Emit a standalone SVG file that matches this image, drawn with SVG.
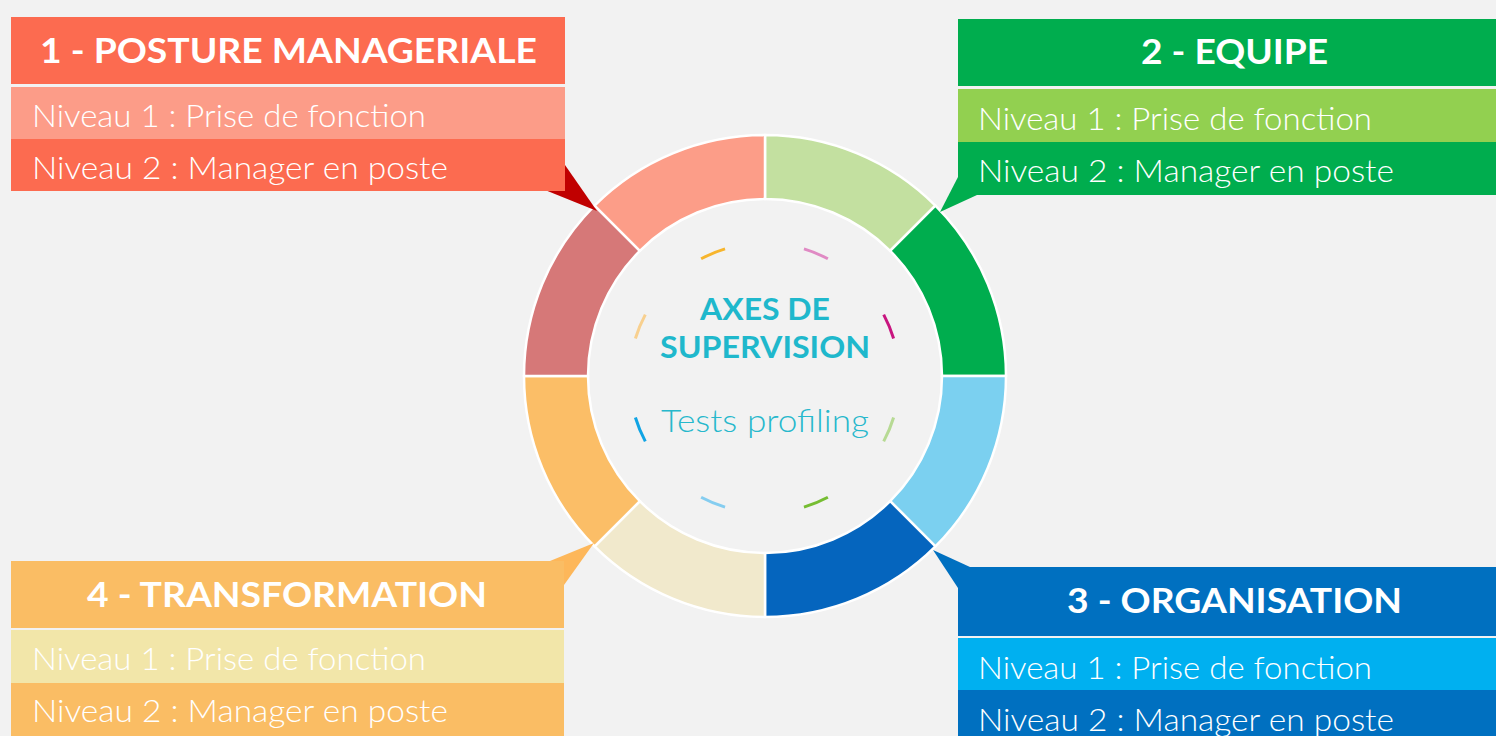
<svg xmlns="http://www.w3.org/2000/svg" width="1496" height="736" viewBox="0 0 1496 736">
<style>
.hd{font-family:Lato,"Open Sans","Liberation Sans",sans-serif;font-weight:700;font-size:35px;fill:#fff;text-anchor:middle}
.rw{font-family:Lato,"Open Sans","Liberation Sans",sans-serif;font-weight:300;font-size:31px;fill:#fff}
.seg{stroke:#fff;stroke-width:2.5}
.dash{fill:none;stroke-width:3;stroke-linecap:butt}
.ttl{font-family:Lato,"Open Sans","Liberation Sans",sans-serif;font-weight:700;font-size:30px;fill:#1fb8cc;text-anchor:middle}
.sub{font-family:Lato,"Open Sans","Liberation Sans",sans-serif;font-weight:300;font-size:31px;fill:#27b8cc;text-anchor:middle}
</style>
<rect width="1496" height="736" fill="#f2f2f2"/>

<g id="ring">
<path class="seg" fill="#c3e0a0" d="M765,135 A241,241 0 0 1 935.41,205.59 L890.16,250.84 A177,177 0 0 0 765,199 Z"/>
<path class="seg" fill="#00ad4e" d="M935.41,205.59 A241,241 0 0 1 1006,376 L942,376 A177,177 0 0 0 890.16,250.84 Z"/>
<path class="seg" fill="#7bd0f0" d="M1006,376 A241,241 0 0 1 935.41,546.41 L890.16,501.16 A177,177 0 0 0 942,376 Z"/>
<path class="seg" fill="#0565be" d="M935.41,546.41 A241,241 0 0 1 765,617 L765,553 A177,177 0 0 0 890.16,501.16 Z"/>
<path class="seg" fill="#f1e9cc" d="M765,617 A241,241 0 0 1 594.59,546.41 L639.84,501.16 A177,177 0 0 0 765,553 Z"/>
<path class="seg" fill="#fbbe67" d="M594.59,546.41 A241,241 0 0 1 524,376 L588,376 A177,177 0 0 0 639.84,501.16 Z"/>
<path class="seg" fill="#d67878" d="M524,376 A241,241 0 0 1 594.59,205.59 L639.84,250.84 A177,177 0 0 0 588,376 Z"/>
<path class="seg" fill="#fc9d88" d="M594.59,205.59 A241,241 0 0 1 765,135 L765,199 A177,177 0 0 0 639.84,250.84 Z"/>
</g>

<g id="dashes">
<path class="dash" stroke="#e08ac4" d="M803.97,248.90 A135,135 0 0 1 827.88,258.80"/>
<path class="dash" stroke="#c8157f" d="M883.70,314.62 A135,135 0 0 1 893.60,338.53"/>
<path class="dash" stroke="#b7da94" d="M893.60,417.47 A135,135 0 0 1 883.70,441.38"/>
<path class="dash" stroke="#76bd32" d="M827.88,497.20 A135,135 0 0 1 803.97,507.10"/>
<path class="dash" stroke="#85cdf0" d="M725.03,507.10 A135,135 0 0 1 701.12,497.20"/>
<path class="dash" stroke="#10a4e4" d="M645.30,441.38 A135,135 0 0 1 635.40,417.47"/>
<path class="dash" stroke="#f8d08f" d="M635.40,338.53 A135,135 0 0 1 645.30,314.62"/>
<path class="dash" stroke="#f7b52c" d="M701.12,258.80 A135,135 0 0 1 725.03,248.90"/>
</g>

<g id="center">
<text class="ttl" x="765" y="320" textLength="130" lengthAdjust="spacingAndGlyphs">AXES DE</text>
<text class="ttl" x="765" y="358" textLength="210" lengthAdjust="spacingAndGlyphs">SUPERVISION</text>
<text class="sub" x="765" y="432" textLength="208" lengthAdjust="spacingAndGlyphs">Tests profiling</text>
</g>

<g id="connectors">
<polygon fill="#c00000" points="545,190 565,165 597,211"/>
<polygon fill="#00ad4e" points="958,177 977,195 940,212"/>
<polygon fill="#0070c0" points="933,550 970,567 958,588"/>
<polygon fill="#fdb75a" points="550,561 564,585 594,543"/>
</g>

<g id="box1">
<rect x="11" y="17" width="554" height="67" fill="#fc6b50"/>
<rect x="11" y="87" width="554" height="52" fill="#fc9c88"/>
<rect x="11" y="139" width="554" height="52" fill="#fc6b50"/>
<text class="hd" x="288.5" y="63" textLength="497" lengthAdjust="spacingAndGlyphs">1 - POSTURE MANAGERIALE</text>
<text class="rw" x="32" y="127" textLength="394" lengthAdjust="spacingAndGlyphs">Niveau 1 : Prise de fonction</text>
<text class="rw" x="32" y="179" textLength="416" lengthAdjust="spacingAndGlyphs">Niveau 2 : Manager en poste</text>
</g>

<g id="box2">
<rect x="958" y="19" width="538" height="67" fill="#00ad4e"/>
<rect x="958" y="89" width="538" height="53" fill="#92d050"/>
<rect x="958" y="142" width="538" height="53" fill="#00ad4e"/>
<text class="hd" x="1234.5" y="64" textLength="187" lengthAdjust="spacingAndGlyphs">2 - EQUIPE</text>
<text class="rw" x="978" y="130" textLength="394" lengthAdjust="spacingAndGlyphs">Niveau 1 : Prise de fonction</text>
<text class="rw" x="978" y="182" textLength="416" lengthAdjust="spacingAndGlyphs">Niveau 2 : Manager en poste</text>
</g>

<g id="box3">
<rect x="958" y="567" width="538" height="69" fill="#0070c0"/>
<rect x="958" y="638" width="538" height="52" fill="#00b0f0"/>
<rect x="958" y="690" width="538" height="46" fill="#0070c0"/>
<text class="hd" x="1234.5" y="613" textLength="335" lengthAdjust="spacingAndGlyphs">3 - ORGANISATION</text>
<text class="rw" x="978" y="679" textLength="394" lengthAdjust="spacingAndGlyphs">Niveau 1 : Prise de fonction</text>
<text class="rw" x="978" y="731" textLength="416" lengthAdjust="spacingAndGlyphs">Niveau 2 : Manager en poste</text>
</g>

<g id="box4">
<rect x="11" y="561" width="553" height="67" fill="#fabd64"/>
<rect x="11" y="630" width="553" height="53" fill="#f2e6a9"/>
<rect x="11" y="683" width="553" height="53" fill="#fabd64"/>
<text class="hd" x="287" y="607" textLength="400" lengthAdjust="spacingAndGlyphs">4 - TRANSFORMATION</text>
<text class="rw" x="32" y="670" textLength="394" lengthAdjust="spacingAndGlyphs">Niveau 1 : Prise de fonction</text>
<text class="rw" x="32" y="722" textLength="416" lengthAdjust="spacingAndGlyphs">Niveau 2 : Manager en poste</text>
</g>
</svg>
